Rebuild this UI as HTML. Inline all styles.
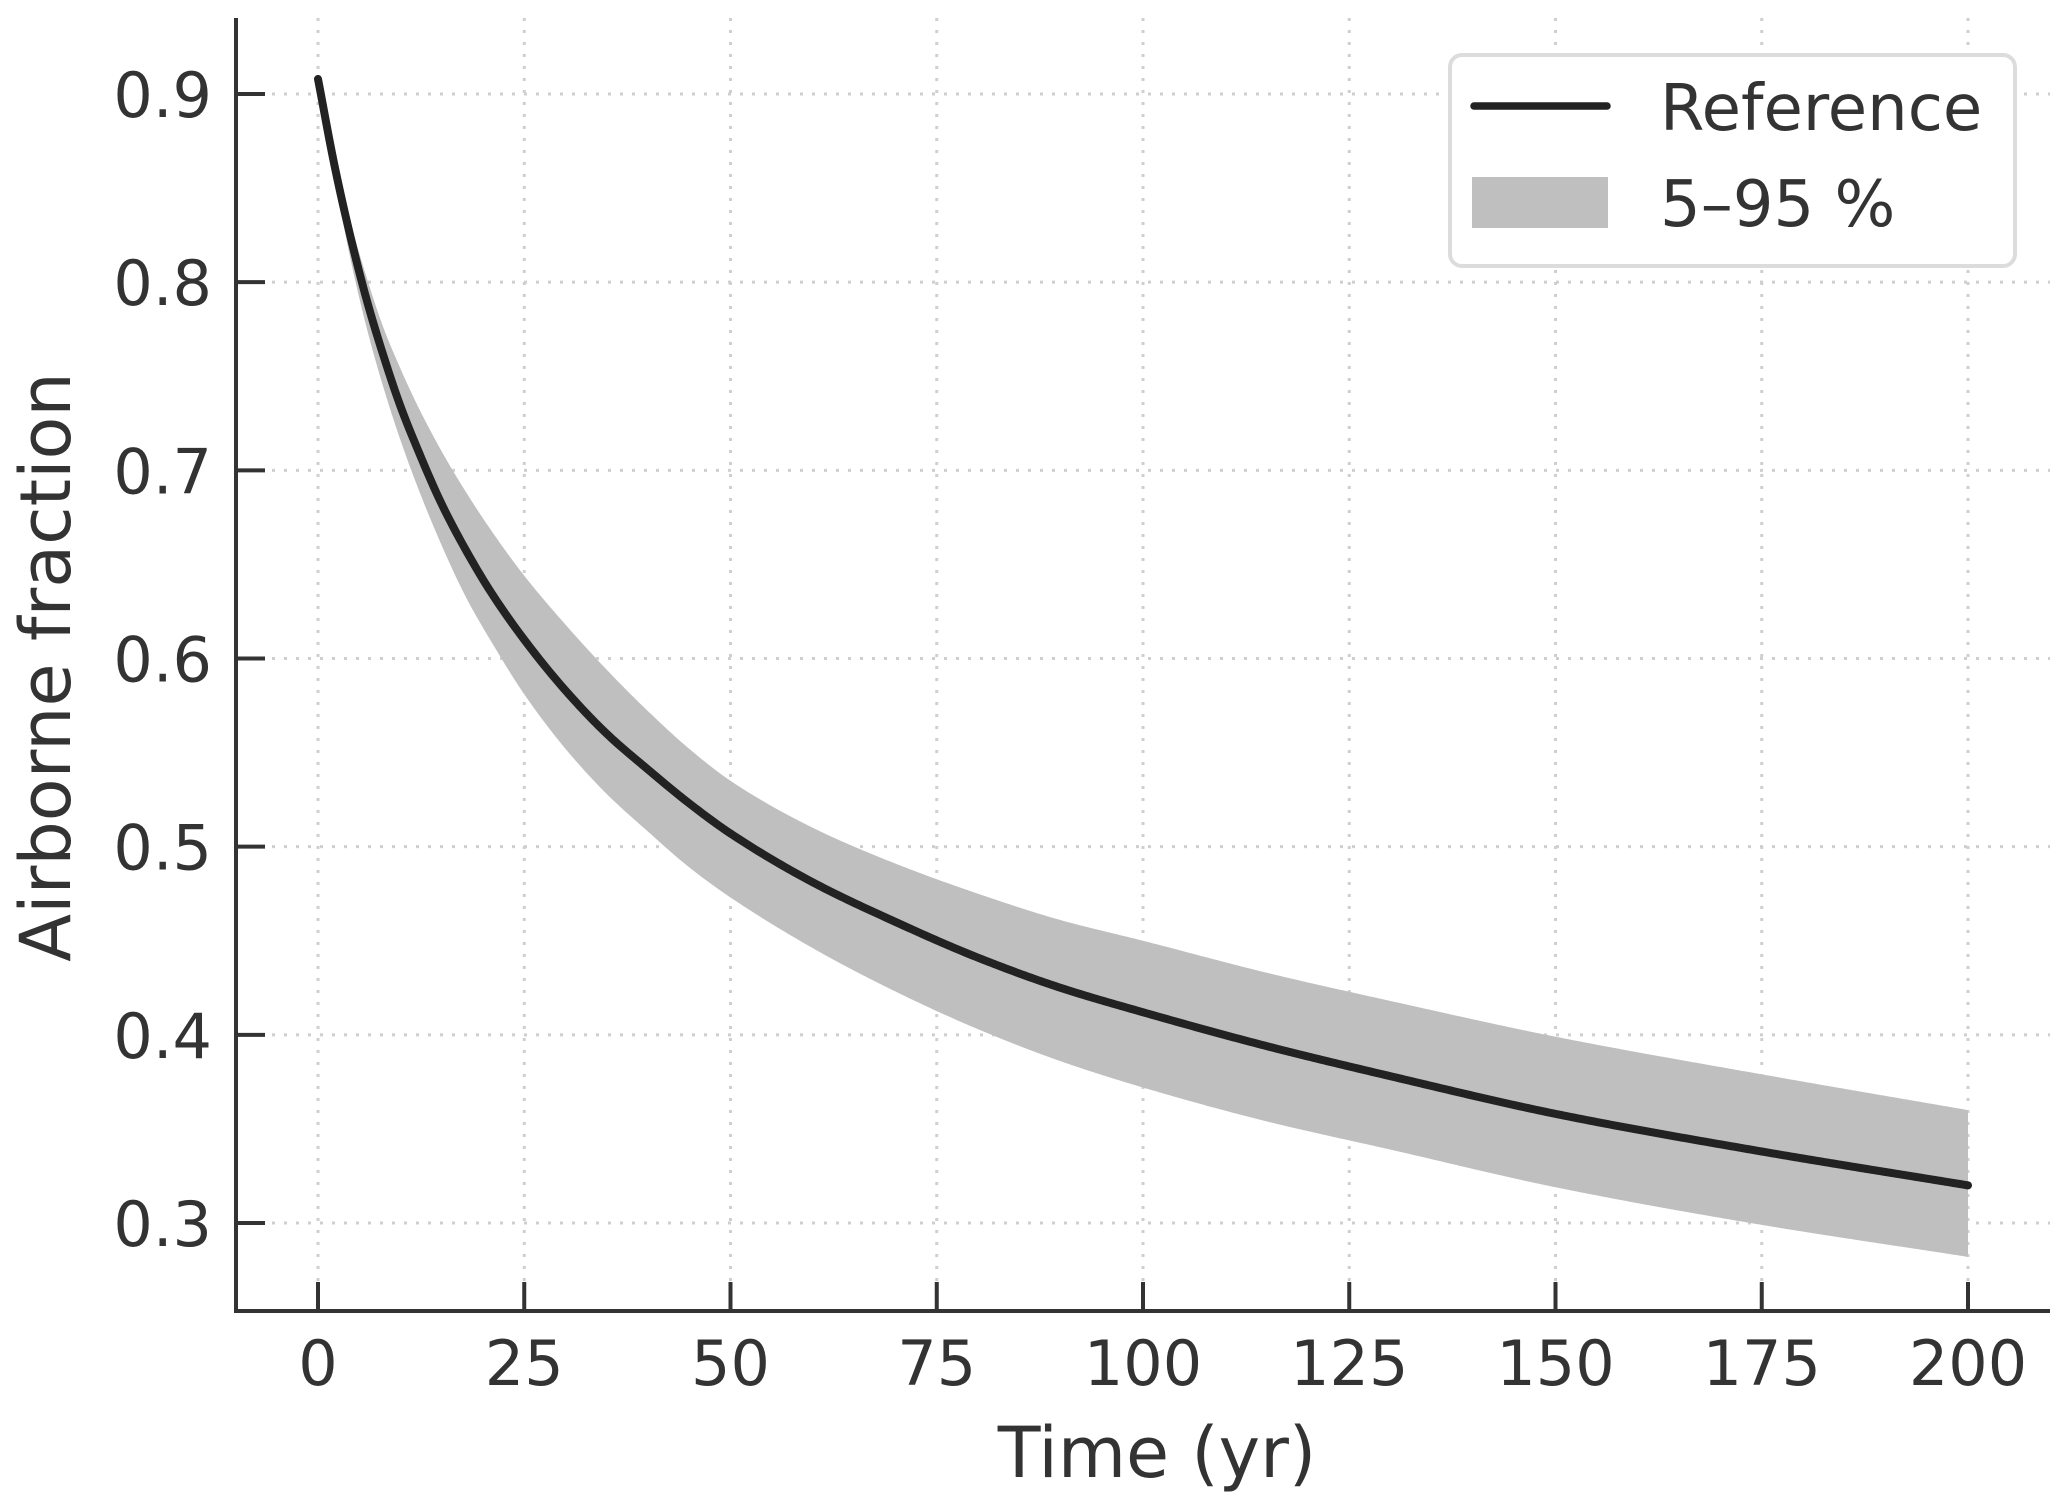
<!DOCTYPE html>
<html><head><meta charset="utf-8"><style>
html,body{margin:0;padding:0;background:#fff;}
svg{display:block;font-family:"DejaVu Sans","Liberation Sans",sans-serif;}
</style></head><body>
<svg id="chart" width="2067" height="1507" viewBox="0 0 2067 1507" xmlns="http://www.w3.org/2000/svg">
<g id="grid"></g>
<g id="band"></g>
<g id="line"></g>
<g id="axes"></g>
<text x="1157" y="1477" font-size="70" fill="#333" text-anchor="middle">Time (yr)</text>
<text transform="translate(70,667) rotate(-90)" font-size="70" fill="#333" text-anchor="middle">Airborne fraction</text>
<g>
<rect x="1450" y="55" width="565" height="211" rx="12" fill="#fff" stroke="#dcdcdc" stroke-width="4"/>
<line x1="1474" y1="106" x2="1607" y2="106" stroke="#222" stroke-width="7.5" stroke-linecap="round"/>
<text x="1660" y="130" font-size="64" fill="#333">Reference</text>
<rect x="1472" y="177" width="136" height="51" fill="#bfbfbf"/>
<text x="1660" y="226" font-size="64" fill="#333">5–95 %</text>
</g>
</svg>
<script>
const times = [0,2,4,6,8,10,12,15,18,21,25,30,35,40,45,50,60,70,80,90,100,115,130,150,175,200];
const refValues = [0.908,0.862,0.823,0.789,0.760,0.734,0.712,0.682,0.657,0.635,0.610,0.583,0.560,0.541,0.523,0.507,0.481,0.460,0.441,0.425,0.412,0.394,0.378,0.358,0.338,0.320];
const upperValues = [0.908,0.866,0.831,0.801,0.775,0.754,0.735,0.710,0.688,0.668,0.644,0.618,0.594,0.572,0.552,0.535,0.510,0.491,0.475,0.461,0.450,0.433,0.418,0.399,0.379,0.360];
const lowerValues = [0.908,0.856,0.811,0.774,0.743,0.716,0.692,0.660,0.632,0.609,0.581,0.552,0.528,0.508,0.489,0.473,0.446,0.423,0.403,0.386,0.372,0.354,0.339,0.319,0.299,0.282];
const xTicks = [0,25,50,75,100,125,150,175,200];
const yTicks = [0.3,0.4,0.5,0.6,0.7,0.8,0.9];
const yTickLabels = ["0.3","0.4","0.5","0.6","0.7","0.8","0.9"];

const NS="http://www.w3.org/2000/svg";
const X0=318, X1=1968, Y09=94, Y03=1223;
function xs(t){return X0+(t/200)*(X1-X0);}
function ys(v){return Y09+(0.9-v)/0.6*(Y03-Y09);}
function mk(tag,attrs,parent){const e=document.createElementNS(NS,tag);for(const k in attrs)e.setAttribute(k,attrs[k]);parent.appendChild(e);return e;}
function monoPts(xa,ya){
  const n=xa.length,d=[],m=new Array(n);
  for(let i=0;i<n-1;i++)d.push((ya[i+1]-ya[i])/(xa[i+1]-xa[i]));
  m[0]=d[0];m[n-1]=d[n-2];
  for(let i=1;i<n-1;i++){
    if(d[i-1]*d[i]<=0)m[i]=0;
    else{const w1=2*(xa[i+1]-xa[i])+(xa[i]-xa[i-1]),w2=(xa[i+1]-xa[i])+2*(xa[i]-xa[i-1]);m[i]=(w1+w2)/(w1/d[i-1]+w2/d[i]);}
  }
  const out=[];
  for(let i=0;i<n-1;i++){
    const h=xa[i+1]-xa[i],steps=Math.max(4,Math.ceil(h*3));
    for(let s=0;s<steps;s++){
      const u=s/steps,h00=2*u*u*u-3*u*u+1,h10=u*u*u-2*u*u+u,h01=-2*u*u*u+3*u*u,h11=u*u*u-u*u;
      out.push([xa[i]+u*h,h00*ya[i]+h10*h*m[i]+h01*ya[i+1]+h11*h*m[i+1]]);
    }
  }
  out.push([xa[n-1],ya[n-1]]);
  return out;
}
function toPath(p){return p.map((q,i)=>(i?"L":"M")+xs(q[0]).toFixed(2)+","+ys(q[1]).toFixed(2)).join(" ");}
const grid=document.getElementById('grid');
xTicks.forEach(t=>{
  const l=mk('line',{x1:xs(t),x2:xs(t),y1:18,y2:1311,stroke:'#cfcfcf','stroke-width':3,'stroke-dasharray':'3 9'},grid);
  
  
});
yTicks.forEach(v=>{
  const l=mk('line',{x1:236,x2:2050,y1:ys(v),y2:ys(v),stroke:'#cfcfcf','stroke-width':3,'stroke-dasharray':'3 9'},grid);
  
  
});
const up=monoPts(times,upperValues);
const lo=monoPts(times,lowerValues).reverse();
const bd=toPath(up)+" "+toPath(lo).replace(/^M/,"L")+" Z";
const band=mk('path',{d:bd,fill:'#bfbfbf'},document.getElementById('band'));


const line=mk('path',{d:toPath(monoPts(times,refValues)),fill:'none',stroke:'#222','stroke-width':8,'stroke-linecap':'round','stroke-linejoin':'round'},document.getElementById('line'));


const ax=document.getElementById('axes');
const ls=mk('line',{x1:236,x2:236,y1:18,y2:1313,stroke:'#333','stroke-width':4},ax);


const bs=mk('line',{x1:234,x2:2050,y1:1311,y2:1311,stroke:'#333','stroke-width':4},ax);


xTicks.forEach(t=>{
  const tk=mk('line',{x1:xs(t),x2:xs(t),y1:1282,y2:1311,stroke:'#333','stroke-width':4},ax);
  
  
  const tx=mk('text',{x:xs(t),y:1385,'font-size':62,fill:'#333','text-anchor':'middle'},ax);
  tx.textContent=String(t);
  
  
});
yTicks.forEach((v,i)=>{
  const tk=mk('line',{x1:236,x2:265,y1:ys(v),y2:ys(v),stroke:'#333','stroke-width':4},ax);
  
  
  const tx=mk('text',{x:212,y:ys(v)+23,'font-size':62,fill:'#333','text-anchor':'end'},ax);
  tx.textContent=yTickLabels[i];
  
  
});
</script>
</body></html>
